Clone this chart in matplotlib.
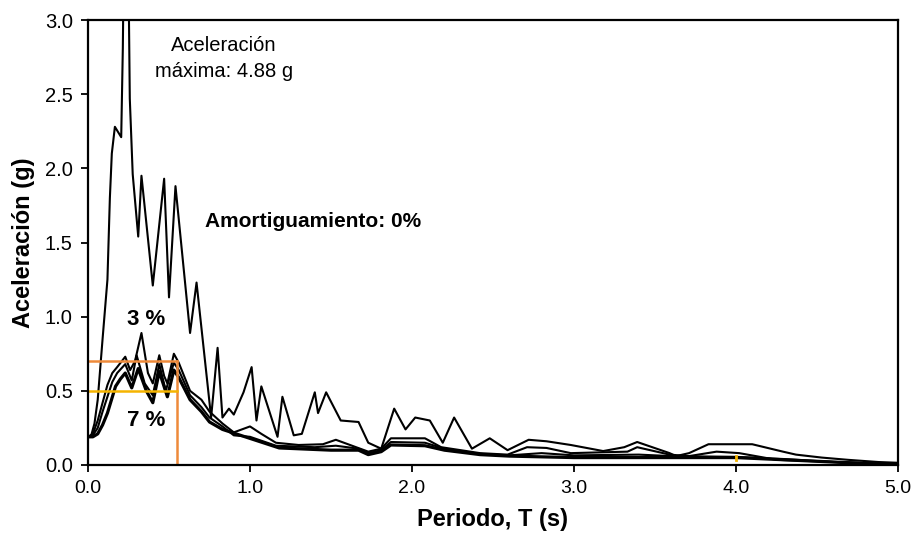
import matplotlib
matplotlib.use("Agg")
import matplotlib.pyplot as plt

# Espectro de respuesta, amortiguamiento 0 %
t_0 = [0.0, 0.02, 0.04, 0.06, 0.09, 0.12, 0.135, 0.147, 0.166, 0.205, 0.215, 0.235,
       0.258, 0.276, 0.31, 0.33, 0.40, 0.47, 0.50, 0.54, 0.63, 0.67, 0.76, 0.80, 0.83,
       0.87, 0.90, 0.96, 1.01, 1.04, 1.07, 1.17, 1.20, 1.27, 1.32, 1.40, 1.42, 1.47,
       1.56, 1.67, 1.73, 1.81, 1.89, 1.96, 2.02, 2.11, 2.19, 2.26, 2.37, 2.48, 2.59,
       2.72, 2.83, 2.98, 3.18, 3.31, 3.39, 3.59, 3.63, 3.71, 3.83, 4.10, 4.29, 4.37,
       4.53, 4.69, 4.88, 5.0]
sa_0 = [0.19, 0.20, 0.28, 0.44, 0.85, 1.25, 1.80, 2.10, 2.28, 2.21, 2.81, 4.88,
        2.47, 1.96, 1.54, 1.95, 1.21, 1.93, 1.13, 1.88, 0.89, 1.23, 0.32, 0.79, 0.32,
        0.38, 0.34, 0.49, 0.66, 0.30, 0.53, 0.19, 0.46, 0.20, 0.21, 0.49, 0.35, 0.49,
        0.30, 0.29, 0.15, 0.11, 0.38, 0.24, 0.32, 0.30, 0.15, 0.32, 0.11, 0.18, 0.10,
        0.17, 0.16, 0.135, 0.094, 0.12, 0.155, 0.08, 0.06, 0.08, 0.14, 0.14, 0.09, 0.07,
        0.05, 0.035, 0.02, 0.015]

# amortiguamiento 3 %
t_3 = [0.0, 0.03, 0.06, 0.09, 0.12, 0.15, 0.18, 0.23, 0.26, 0.29, 0.33, 0.37, 0.40,
       0.44, 0.47, 0.49, 0.53, 0.56, 0.63, 0.70, 0.75, 0.83, 0.90, 1.00, 1.07, 1.16,
       1.30, 1.45, 1.53, 1.63, 1.73, 1.81, 1.87, 2.08, 2.18, 2.42, 2.59, 2.71, 2.83,
       2.98, 3.33, 3.39, 3.59, 3.71, 3.88, 4.02, 4.25, 4.50, 4.75, 5.0]
sa_3 = [0.19, 0.21, 0.30, 0.42, 0.54, 0.62, 0.66, 0.73, 0.64, 0.70, 0.89, 0.62, 0.55,
        0.74, 0.60, 0.55, 0.75, 0.69, 0.50, 0.44, 0.36, 0.28, 0.22, 0.26, 0.21, 0.15,
        0.135, 0.14, 0.17, 0.13, 0.09, 0.11, 0.18, 0.18, 0.12, 0.08, 0.07, 0.12, 0.115,
        0.08, 0.09, 0.12, 0.07, 0.06, 0.09, 0.08, 0.035, 0.025, 0.015, 0.005]

# amortiguamiento 5 %
t_5 = [0.0, 0.03, 0.06, 0.09, 0.12, 0.15, 0.18, 0.23, 0.27, 0.30, 0.35, 0.40, 0.44,
       0.48, 0.53, 0.56, 0.63, 0.70, 0.75, 0.83, 0.90, 1.00, 1.16, 1.40, 1.53, 1.67,
       1.73, 1.81, 1.87, 2.08, 2.20, 2.42, 2.60, 2.80, 3.00, 3.40, 3.60, 4.00, 4.30,
       4.60, 5.0]
sa_5 = [0.19, 0.20, 0.25, 0.36, 0.46, 0.56, 0.62, 0.68, 0.57, 0.74, 0.55, 0.47, 0.68,
        0.50, 0.69, 0.64, 0.47, 0.39, 0.32, 0.26, 0.20, 0.19, 0.13, 0.12, 0.13, 0.11,
        0.08, 0.10, 0.155, 0.15, 0.11, 0.075, 0.065, 0.08, 0.065, 0.07, 0.06, 0.055,
        0.04, 0.02, 0.005]

# amortiguamiento 7 %
t_7 = [0.0, 0.03, 0.06, 0.09, 0.12, 0.17, 0.20, 0.23, 0.27, 0.31, 0.36, 0.40, 0.44,
       0.49, 0.53, 0.56, 0.63, 0.70, 0.75, 0.83, 0.97, 1.18, 1.50, 1.67, 1.73, 1.81,
       1.87, 2.08, 2.20, 2.42, 2.60, 3.00, 3.50, 4.00, 4.30, 4.60, 5.0]
sa_7 = [0.19, 0.19, 0.21, 0.27, 0.35, 0.53, 0.58, 0.62, 0.52, 0.65, 0.50, 0.42, 0.63,
        0.46, 0.64, 0.59, 0.44, 0.36, 0.29, 0.24, 0.19, 0.115, 0.10, 0.10, 0.07, 0.09,
        0.135, 0.13, 0.10, 0.07, 0.06, 0.05, 0.05, 0.05, 0.035, 0.02, 0.0]

# lineas guia
t_guia = 0.55
sa_guia_sup = 0.70
sa_guia_inf = 0.50

x_ticks = [0.0, 1.0, 2.0, 3.0, 4.0, 5.0]
y_ticks = [0.0, 0.5, 1.0, 1.5, 2.0, 2.5, 3.0]

FUENTE = ["Liberation Sans", "DejaVu Sans"]

fig = plt.figure(figsize=(9.18, 5.58), dpi=100)
ax = fig.add_axes([88 / 918, 93 / 558, 810 / 918, 445 / 558])

ax.plot(t_0, sa_0, color="black", lw=1.5)
ax.plot(t_3, sa_3, color="black", lw=1.5)
ax.plot(t_5, sa_5, color="black", lw=1.5)
ax.plot(t_7, sa_7, color="black", lw=2.3)

ax.plot([0, t_guia], [sa_guia_sup, sa_guia_sup], color="#ee8a3a", lw=1.8)
ax.plot([t_guia, t_guia], [0, sa_guia_sup], color="#ee8a3a", lw=1.8)
ax.plot([0, t_guia], [sa_guia_inf, sa_guia_inf], color="#f5b400", lw=1.8)
ax.plot([4.0, 4.0], [0.035, 0.06], color="#f5b400", lw=2)

ax.set_xlim(0, 5.0)
ax.set_ylim(0, 3.0)
ax.set_xticks(x_ticks)
ax.set_yticks(y_ticks)
ax.set_xticklabels(["%.1f" % v for v in x_ticks], family=FUENTE, fontsize=14)
ax.set_yticklabels(["%.1f" % v for v in y_ticks], family=FUENTE, fontsize=14.5)
ax.tick_params(direction="out", length=5, width=1.3, pad=6)

for s in ax.spines.values():
    s.set_linewidth(1.6)
    s.set_color("black")

ax.set_xlabel("Periodo, T (s)", family=FUENTE, fontweight="bold", fontsize=17, labelpad=8)
ax.set_ylabel("Aceleración (g)", family=FUENTE, fontweight="bold", fontsize=17, labelpad=7)

ax.text(0.84, 2.74, "Aceleración\nmáxima: 4.88 g", family=FUENTE, fontsize=14.5,
        ha="center", va="center", linespacing=1.45)
ax.text(0.72, 1.64, "Amortiguamiento: 0%", family=FUENTE, fontweight="bold",
        fontsize=15, ha="left", va="center")
ax.text(0.36, 0.98, "3 %", family=FUENTE, fontweight="bold", fontsize=16,
        ha="center", va="center")
ax.text(0.36, 0.30, "7 %", family=FUENTE, fontweight="bold", fontsize=16,
        ha="center", va="center")

fig.savefig("out.png", dpi=100)
